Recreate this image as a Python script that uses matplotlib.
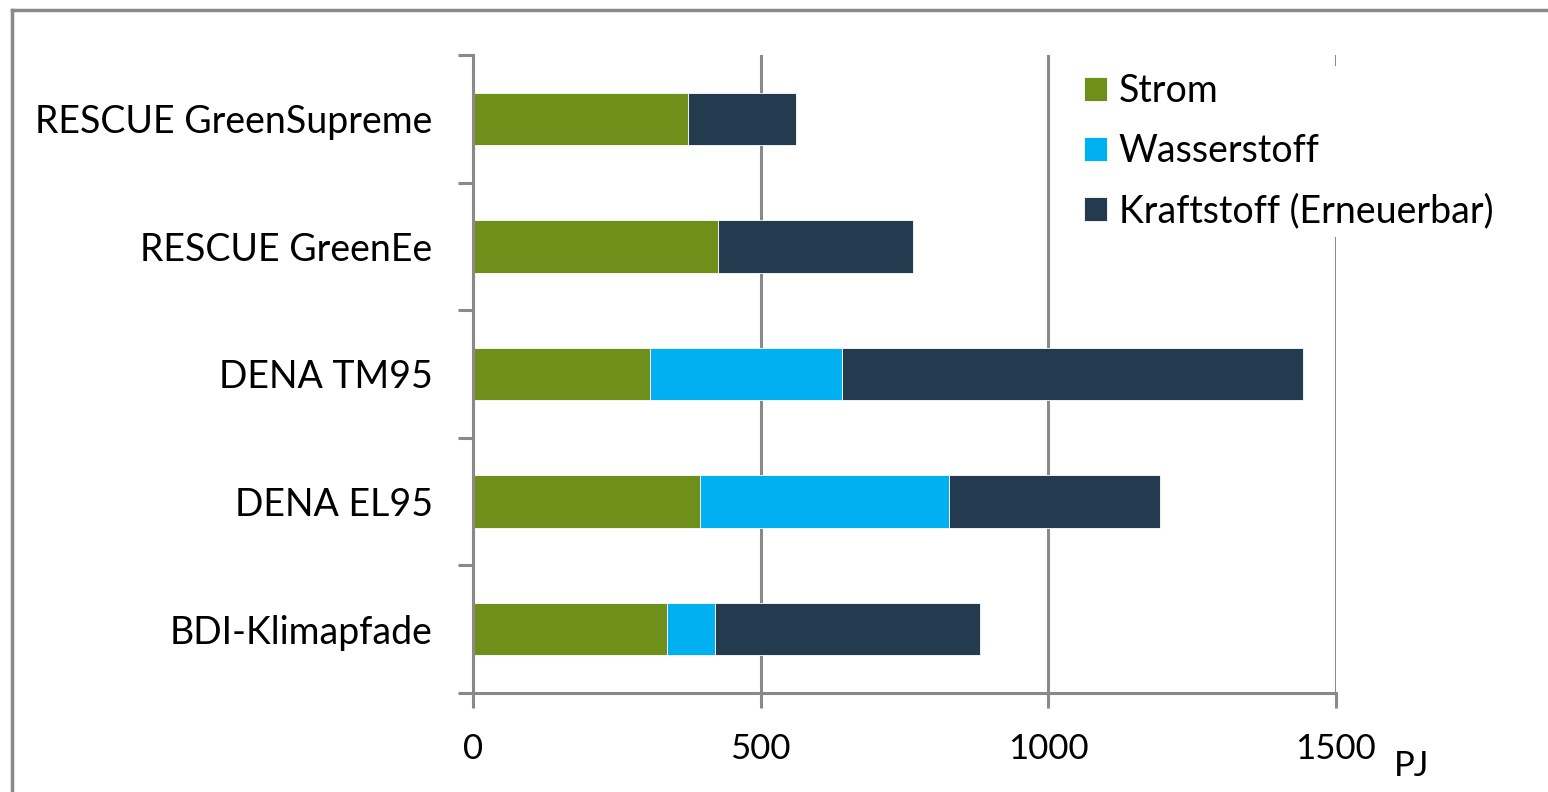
import matplotlib
matplotlib.use("Agg")
import matplotlib.pyplot as plt
from matplotlib.lines import Line2D
import numpy as np

plt.rcParams['font.family'] = ['Lato', 'DejaVu Sans']

categories = ["RESCUE GreenSupreme", "RESCUE GreenEe", "DENA TM95", "DENA EL95", "BDI-Klimapfade"]
strom = [374, 425, 308, 395, 338]
wasserstoff = [0, 0, 334, 433, 83]
kraftstoff = [188, 339, 801, 366, 461]
series_names = ["Strom", "Wasserstoff", "Kraftstoff (Erneuerbar)"]
colors = ["#6E8F1A", "#00B0F0", "#243A4F"]
xticks = [0, 500, 1000, 1500]

gray = "#898989"

fig = plt.figure(figsize=(15.48, 7.92), dpi=100)
ax = fig.add_axes([473/1548, 1-693/792, (1336-473)/1548, (693-55)/792])

y = np.arange(len(categories))[::-1]
left = np.zeros(len(categories))
for vals, name, c in zip([strom, wasserstoff, kraftstoff], series_names, colors):
    v = np.array(vals, dtype=float)
    ax.barh(y, v, left=left, height=0.41, color=c, label=name,
            edgecolor="white", linewidth=0.6, zorder=3)
    left += v

ax.set_xlim(0, 1500)
ax.set_ylim(-0.5, len(categories) - 0.5)
ax.set_xticks(xticks)
ax.set_xticklabels([str(t) for t in xticks])
ax.set_yticks(y)
ax.set_yticklabels(categories)
ax.set_yticks(np.arange(-0.5, len(categories), 1.0), minor=True)
ax.tick_params(axis='y', which='major', length=0, pad=29, labelsize=27)
ax.tick_params(axis='y', which='minor', length=11, width=2.2, color=gray, direction='out')
ax.tick_params(axis='x', which='major', length=11, width=2.2, color=gray, direction='out', pad=18, labelsize=25)

ax.xaxis.grid(True, color=gray, linewidth=2.2, zorder=0)
ax.set_axisbelow(True)
for s in ['top', 'right']:
    ax.spines[s].set_visible(False)
for s in ['left', 'bottom']:
    ax.spines[s].set_color(gray)
    ax.spines[s].set_linewidth(2.2)
    ax.spines[s].set_zorder(4)

fig.text(1394/1548, 1-766/792, "PJ", fontsize=25, ha='left', va='center')

leg = ax.legend(loc='upper left', bbox_to_anchor=(1058/1548, 1-47/792), bbox_transform=fig.transFigure,
                frameon=True, fontsize=27, handlelength=0.6, handleheight=0.6, handletextpad=0.32,
                labelspacing=0.64, borderpad=0.2)
leg.get_frame().set_facecolor("white")
leg.get_frame().set_edgecolor("none")
leg.get_frame().set_alpha(1)
leg.set_zorder(5)

# outer frame (left and top edges)
fig.add_artist(Line2D([12/1548, 12/1548], [0, 1-10/792], transform=fig.transFigure, color=gray, linewidth=2.5))
fig.add_artist(Line2D([12/1548, 1], [1-10/792, 1-10/792], transform=fig.transFigure, color=gray, linewidth=2.5))

fig.savefig("out.png", dpi=100)
